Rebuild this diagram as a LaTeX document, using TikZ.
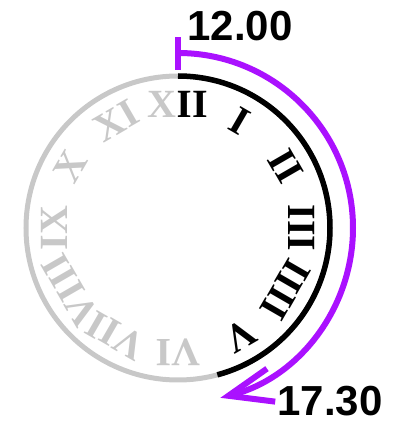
\documentclass[tikz,border=0pt]{standalone}
\usepackage{fontspec}
\setmainfont{Liberation Serif}
\newfontfamily\labelfont{Liberation Sans}
\usetikzlibrary{arrows.meta}
\definecolor{dialgray}{RGB}{200,200,200}
\definecolor{arrowpurple}{RGB}{170,17,255}
\begin{document}
\begin{tikzpicture}[x=1pt,y=1pt,
  numeral/.style={font=\fontsize{40}{40}\selectfont\bfseries, inner sep=0pt},
  timelabel/.style={font=\labelfont\bfseries\fontsize{42}{42}\selectfont, inner sep=0pt},
  dialring/.style={draw=dialgray, line width=5pt},
  elapsed/.style={draw=black, line width=5.5pt},
  purplearc/.style={draw=arrowpurple, line width=6pt}]
\useasboundingbox (0,0) rectangle (395,429);
\coordinate (c) at (178,201);
% dial
\draw[dialring] (c) circle (152);
\draw[elapsed] ([shift={(90:152)}]c) arc (90:-75:152);
% numerals
\foreach \t/\h in {I/1,II/2,III/3,IIII/4,V/5}
  \node[numeral, text=black, rotate=-30*\h] (n\h) at ([shift={({90-30*\h}:124)}]c) {\t};
\foreach \t/\h in {VI/6,VII/7,VIII/8,IX/9,X/10,XI/11}
  \node[numeral, text=dialgray, rotate=-30*\h] (n\h) at ([shift={({90-30*\h}:124)}]c) {\t};
\node[numeral, text=dialgray] (n0) at ([shift={(90:124)}]c) {XII};
\begin{scope}
  \clip (178,0) rectangle (395,429);
  \node[numeral, text=black] at ([shift={(90:124)}]c) {XII};
\end{scope}
% elapsed-time arrow
\coordinate (s) at ([shift={(90:175)}]c);
\draw[purplearc] ([shift={(90:158)}]c) -- ([shift={(90:191)}]c);
\draw[purplearc, -{Straight Barb[length=44pt,width=34pt]}] (s) arc (90:-76:175);
% labels
\node[timelabel] (start) at (240,403) {12.00};
\node[timelabel] (end) at (330,28) {17.30};
\end{tikzpicture}
\end{document}
